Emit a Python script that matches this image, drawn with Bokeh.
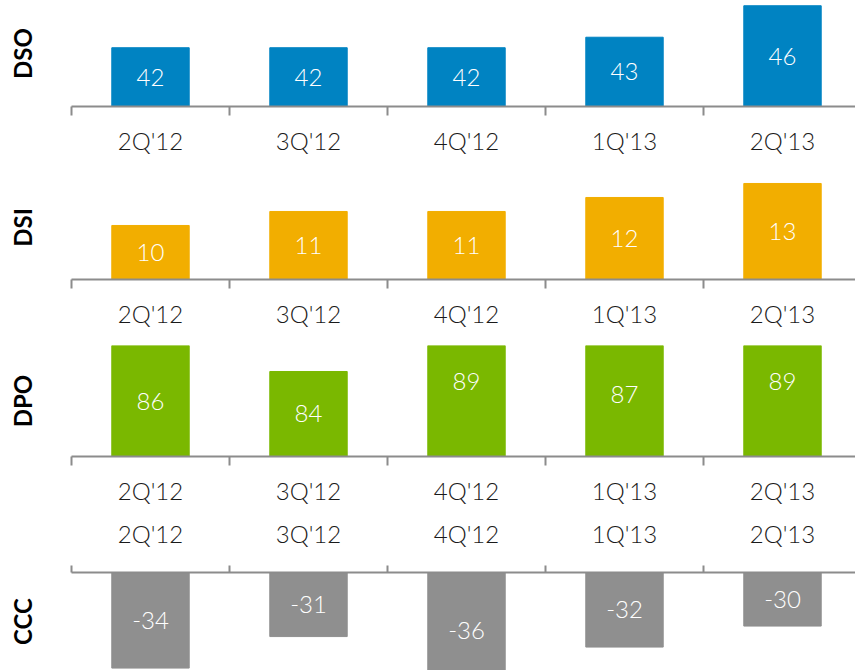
from bokeh.plotting import figure
from bokeh.layouts import column
from bokeh.models import Range1d, FixedTicker, LinearAxis
from bokeh.core.properties import value
from bokeh.embed import file_html
from bokeh.resources import INLINE

# ---- data ----
quarters = ["2Q'12", "3Q'12", "4Q'12", "1Q'13", "2Q'13"]
dso = [42, 42, 42, 43, 46]
dsi = [10, 11, 11, 12, 13]
dpo = [86, 84, 89, 87, 89]
ccc = [-34, -31, -36, -32, -30]

FONT = "Lato Light"
BOLD = "Lato"
W = 855          # canvas width
LEFT = 71        # left border (frame starts here)
STEP = 158       # px per category
idx = list(range(len(quarters)))
bounds = [i - 0.5 for i in range(len(quarters) + 1)]
x_end = -0.5 + (W - LEFT) / STEP


def panel(name, vals, color, y_start, y_end, height, b_top, b_bottom, side):
    p = figure(width=W, height=height, output_backend="svg", toolbar_location=None,
               x_range=Range1d(-0.5, x_end), y_range=Range1d(y_start, y_end),
               min_border_left=LEFT, min_border_right=0,
               min_border_top=b_top, min_border_bottom=b_bottom,
               x_axis_location=None, y_axis_location=None)
    p.outline_line_color = None
    p.grid.visible = False
    p.background_fill_color = "white"
    p.border_fill_color = "white"

    xa = LinearAxis(ticker=FixedTicker(ticks=idx, minor_ticks=bounds),
                    major_label_overrides={i: q for i, q in zip(idx, quarters)})
    xa.axis_line_color = "#8c8c8c"
    xa.axis_line_width = 2
    xa.major_tick_out = 0
    xa.major_tick_in = 0
    xa.minor_tick_out = 9 if side == "below" else 7
    xa.minor_tick_in = 0
    xa.minor_tick_line_color = "#8c8c8c"
    xa.minor_tick_line_width = 2
    xa.major_label_standoff = 10 if side == "below" else 18
    xa.major_label_text_font = FONT
    xa.major_label_text_font_size = "24px"
    xa.major_label_text_color = "#1a1a1a"
    p.add_layout(xa, side)

    ya = LinearAxis(ticker=FixedTicker(ticks=[]), axis_label=name)
    ya.axis_line_color = None
    ya.major_tick_out = 0
    ya.minor_tick_out = 0
    ya.axis_label_standoff = 35
    ya.axis_label_text_font = BOLD
    ya.axis_label_text_font_size = "24px"
    ya.axis_label_text_font_style = "bold"
    ya.axis_label_text_color = "#000000"
    p.add_layout(ya, "left")

    if side == "below":
        p.vbar(x=idx, top=vals, bottom=0, width=0.49, fill_color=color, line_color=color)
        base = y_start
    else:
        p.vbar(x=idx, top=0, bottom=vals, width=0.49, fill_color=color, line_color=color)
        base = y_end
    ly = [(base + v) / 2 for v in vals]
    p.text(x=idx, y=ly, text=[str(v) for v in vals], text_color="white",
           text_font=value(FONT), text_font_size="24px",
           text_align="center", text_baseline="middle")
    return p


p1 = panel("DSO", dso, "#0083c2", 36.4, 46.5, 175, 0, 69, "below")
p2 = panel("DSI", dsi, "#f2ae00", 6.14, 13.57, 170, 0, 66, "below")
p3 = panel("DPO", dpo, "#7ab800", 77.46, 86.0, 170, 0, 59, "below")
p4 = panel("CCC", ccc, "#8f8f8f", -34.23, -24.9, 155, 57, 0, "above")

layout = column(p1, p2, p3, p4, spacing=0)
open("out.html", "w").write(file_html(layout, INLINE))
